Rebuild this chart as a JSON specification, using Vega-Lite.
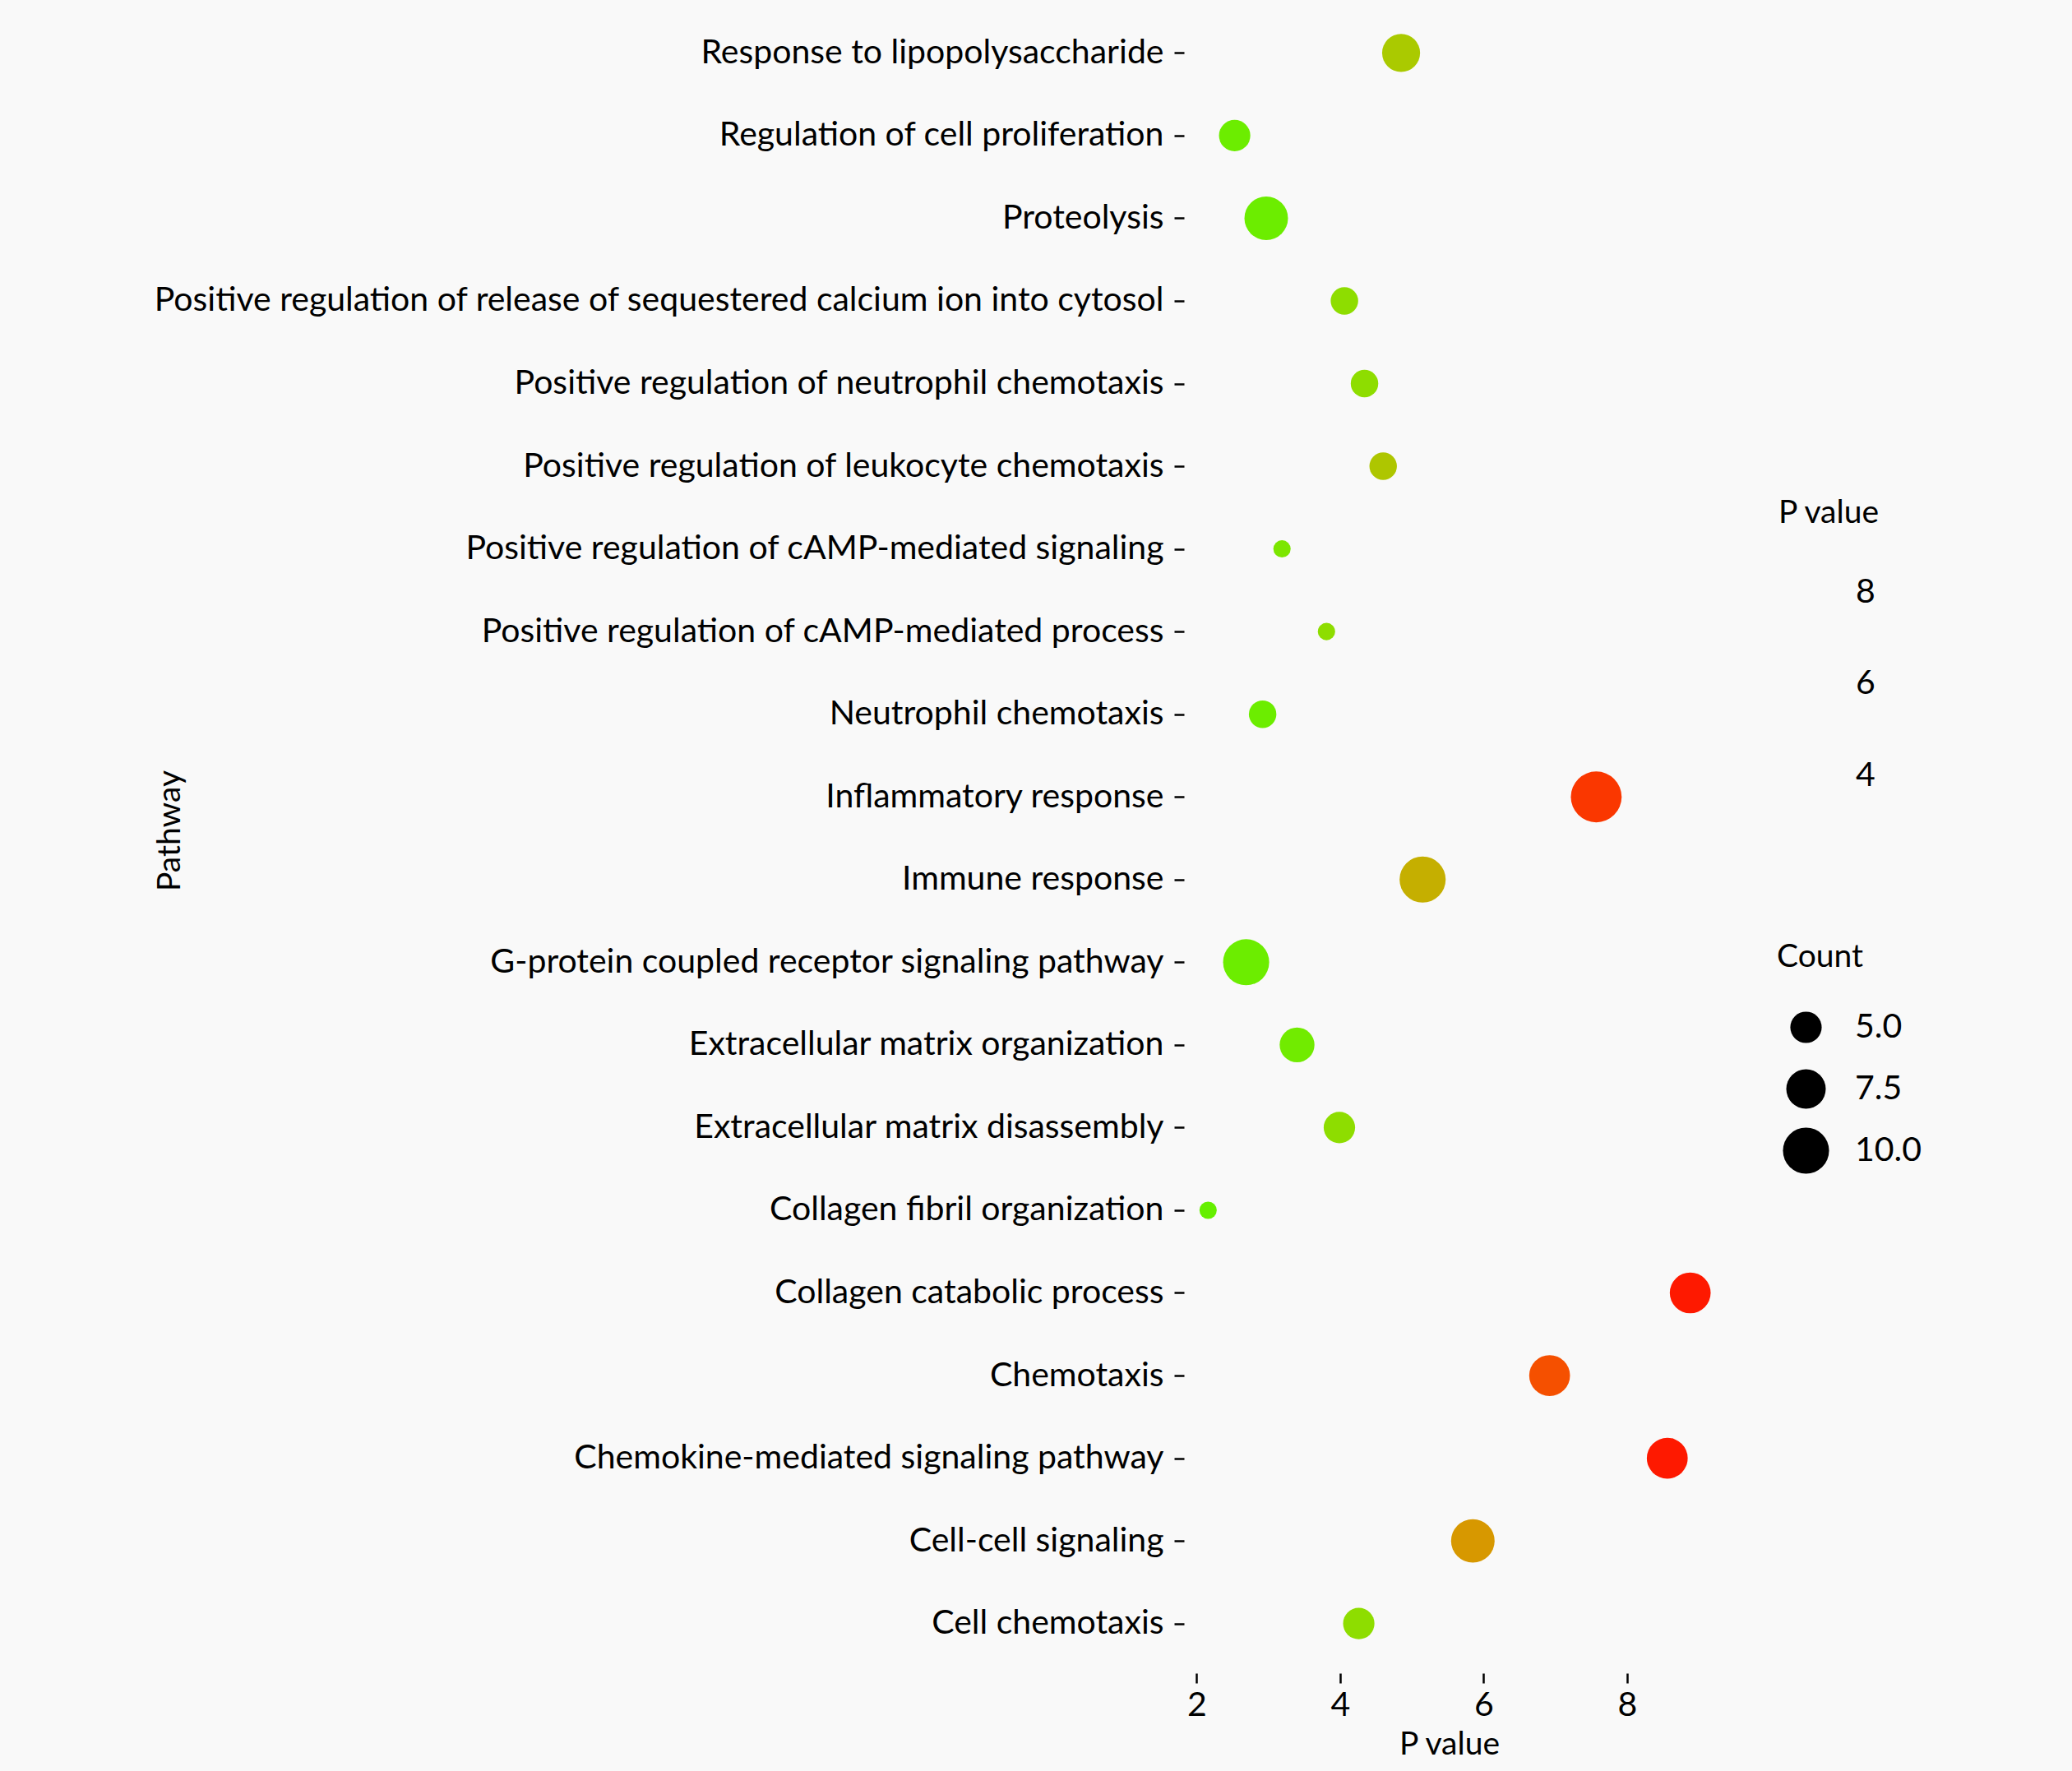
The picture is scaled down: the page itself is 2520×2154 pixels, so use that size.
{
  "$schema": "https://vega.github.io/schema/vega-lite/v6.json",
  "width": 645,
  "height": 2031,
  "autosize": "none",
  "padding": {"left": 1440, "top": 4, "right": 435, "bottom": 119},
  "background": "#f9f9f9",
  "config": {"font": "Lato", "view": {"stroke": null}},
  "data": {
    "values": [
      {"pathway": "Response to lipopolysaccharide", "pvalue": 4.85, "color_p": 4.3, "count": 7},
      {"pathway": "Regulation of cell proliferation", "pvalue": 2.53, "color_p": 2.8, "count": 5},
      {"pathway": "Proteolysis", "pvalue": 2.97, "color_p": 2.8, "count": 9},
      {"pathway": "Positive regulation of release of sequestered calcium ion into cytosol", "pvalue": 4.06, "color_p": 3.5, "count": 4},
      {"pathway": "Positive regulation of neutrophil chemotaxis", "pvalue": 4.34, "color_p": 3.5, "count": 4},
      {"pathway": "Positive regulation of leukocyte chemotaxis", "pvalue": 4.6, "color_p": 4.45, "count": 4},
      {"pathway": "Positive regulation of cAMP-mediated signaling", "pvalue": 3.19, "color_p": 3.1, "count": 2},
      {"pathway": "Positive regulation of cAMP-mediated process", "pvalue": 3.81, "color_p": 3.5, "count": 2},
      {"pathway": "Neutrophil chemotaxis", "pvalue": 2.92, "color_p": 2.8, "count": 4},
      {"pathway": "Inflammatory response", "pvalue": 7.57, "color_p": 8.6, "count": 12},
      {"pathway": "Immune response", "pvalue": 5.15, "color_p": 5.35, "count": 10},
      {"pathway": "G-protein coupled receptor signaling pathway", "pvalue": 2.69, "color_p": 2.8, "count": 10},
      {"pathway": "Extracellular matrix organization", "pvalue": 3.4, "color_p": 2.9, "count": 6},
      {"pathway": "Extracellular matrix disassembly", "pvalue": 3.99, "color_p": 3.5, "count": 5},
      {"pathway": "Collagen fibril organization", "pvalue": 2.16, "color_p": 2.7, "count": 2},
      {"pathway": "Collagen catabolic process", "pvalue": 8.88, "color_p": 8.9, "count": 8},
      {"pathway": "Chemotaxis", "pvalue": 6.92, "color_p": 8.2, "count": 8},
      {"pathway": "Chemokine-mediated signaling pathway", "pvalue": 8.56, "color_p": 8.9, "count": 8},
      {"pathway": "Cell-cell signaling", "pvalue": 5.85, "color_p": 6.2, "count": 9},
      {"pathway": "Cell chemotaxis", "pvalue": 4.26, "color_p": 3.5, "count": 5}
    ]
  },
  "mark": {"type": "point", "filled": true, "opacity": 1, "strokeWidth": 0, "shape": "circle"},
  "encoding": {
    "y": {
      "field": "pathway",
      "type": "nominal",
      "sort": [
        "Response to lipopolysaccharide",
        "Regulation of cell proliferation",
        "Proteolysis",
        "Positive regulation of release of sequestered calcium ion into cytosol",
        "Positive regulation of neutrophil chemotaxis",
        "Positive regulation of leukocyte chemotaxis",
        "Positive regulation of cAMP-mediated signaling",
        "Positive regulation of cAMP-mediated process",
        "Neutrophil chemotaxis",
        "Inflammatory response",
        "Immune response",
        "G-protein coupled receptor signaling pathway",
        "Extracellular matrix organization",
        "Extracellular matrix disassembly",
        "Collagen fibril organization",
        "Collagen catabolic process",
        "Chemotaxis",
        "Chemokine-mediated signaling pathway",
        "Cell-cell signaling",
        "Cell chemotaxis"
      ],
      "scale": {"type": "point", "padding": 0.6},
      "axis": {
        "title": "Pathway",
        "domain": false,
        "grid": false,
        "tickSize": 12,
        "tickWidth": 2.5,
        "tickColor": "#000000",
        "labelColor": "#000000",
        "labelFontSize": 41,
        "labelPadding": 13,
        "labelLimit": 0,
        "titleFontSize": 39,
        "titleFontWeight": "normal",
        "titleColor": "#000000",
        "titleX": -1234,
        "titleY": 1006,
        "titleAngle": 270,
        "titleBaseline": "middle",
        "titleAlign": "center"
      }
    },
    "x": {
      "field": "pvalue",
      "type": "quantitative",
      "scale": {"domain": [1.824, 9.216], "nice": false, "zero": false},
      "axis": {
        "title": "P value",
        "values": [2, 4, 6, 8],
        "domain": false,
        "grid": false,
        "tickSize": 12,
        "tickWidth": 2.5,
        "tickColor": "#000000",
        "labelColor": "#000000",
        "labelFontSize": 41,
        "labelPadding": 7,
        "titleFontSize": 39,
        "titleFontWeight": "normal",
        "titleColor": "#000000",
        "titleY": 98,
        "titleBaseline": "alphabetic"
      }
    },
    "color": {
      "field": "color_p",
      "type": "quantitative",
      "scale": {"domain": [2, 9], "range": ["#00ff00", "#ff0000"], "interpolate": "lab"},
      "legend": {
        "title": "P value",
        "orient": "none",
        "legendX": 723,
        "legendY": 601,
        "direction": "vertical",
        "values": [4, 6, 8],
        "gradientLength": 390,
        "gradientThickness": 80,
        "gradientOpacity": 0,
        "gradientStrokeWidth": 0,
        "labelOverlap": false,
        "labelFontSize": 41,
        "labelColor": "#000000",
        "labelOffset": 14,
        "titleFontSize": 39,
        "titleFontWeight": "normal",
        "titleColor": "#000000",
        "titlePadding": 21,
        "padding": 0
      }
    },
    "size": {
      "field": "count",
      "type": "quantitative",
      "scale": {"domain": [1, 12], "range": [106, 3819], "zero": false},
      "legend": {
        "title": "Count",
        "orient": "none",
        "legendX": 721,
        "legendY": 1141,
        "values": [5, 7.5, 10],
        "format": ".1f",
        "symbolType": "circle",
        "symbolFillColor": "#000000",
        "symbolStrokeColor": "#000000",
        "symbolStrokeWidth": 0,
        "symbolOpacity": 1,
        "symbolOffset": 7,
        "clipHeight": 57,
        "labelFontSize": 41,
        "labelColor": "#000000",
        "labelOffset": 31,
        "rowPadding": 18,
        "titleFontSize": 39,
        "titleFontWeight": "normal",
        "titleColor": "#000000",
        "titlePadding": 37,
        "padding": 0
      }
    }
  }
}
